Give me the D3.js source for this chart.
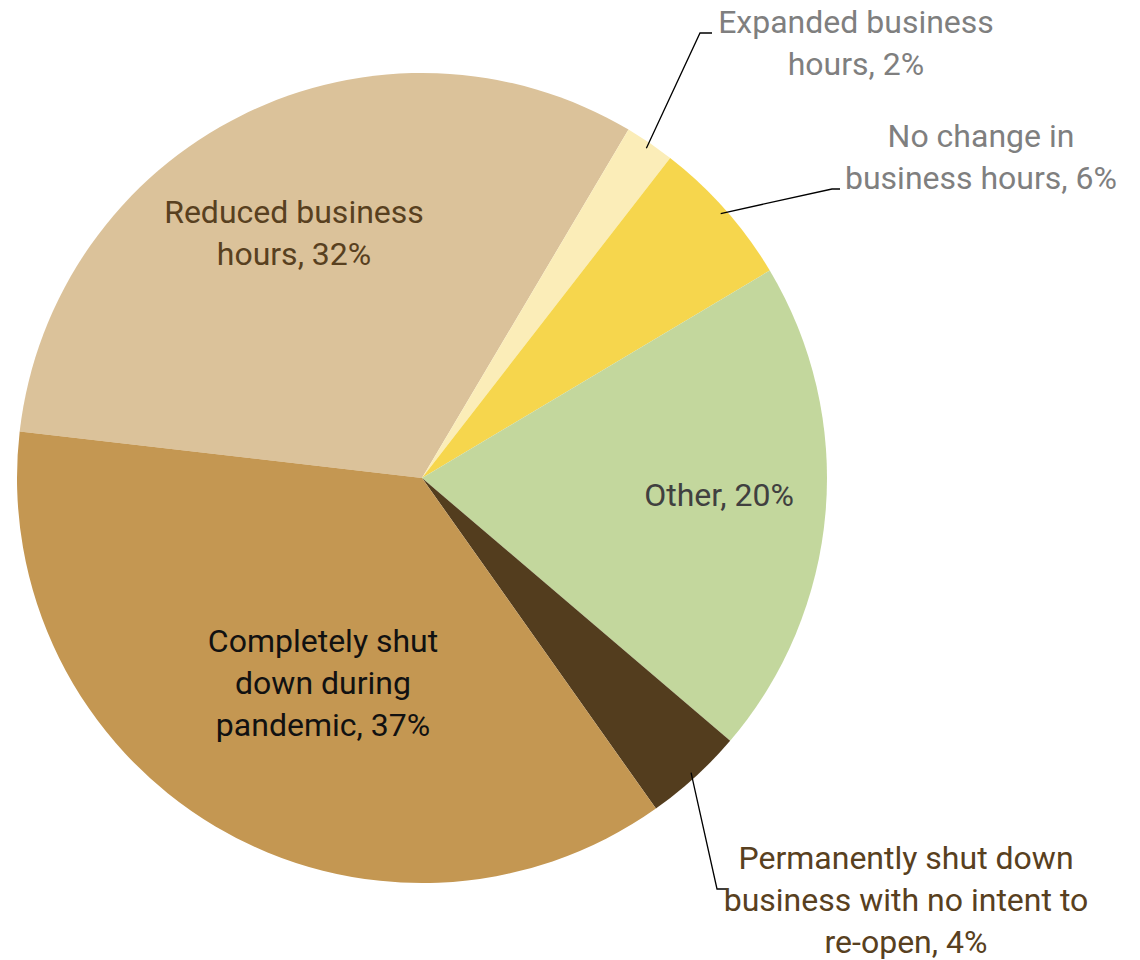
<!DOCTYPE html>
<html>
<head>
<meta charset="utf-8">
<script src="https://cdn.jsdelivr.net/npm/d3@7"></script>
<style>
  html, body { margin: 0; padding: 0; background: #fff; }
  svg text { font-family: Roboto, "Noto Sans", sans-serif; }
</style>
</head>
<body>
<svg id="chart" width="1140" height="960"></svg>
<script>
// Share of businesses by change in operations during the pandemic (%)
const categories = [
  "Reduced business hours",
  "Expanded business hours",
  "No change in business hours",
  "Other",
  "Permanently shut down business with no intent to re-open",
  "Completely shut down during pandemic"
];
const values = [32, 2, 6, 20, 4, 37];
const labelLines = [
  ["Reduced business", "hours, 32%"],
  ["Expanded business", "hours, 2%"],
  ["No change in", "business hours, 6%"],
  ["Other, 20%"],
  ["Permanently shut down", "business with no intent to", "re-open, 4%"],
  ["Completely shut", "down during", "pandemic, 37%"]
];
const colors = ["#dbc29a", "#fbedb8", "#f6d64d", "#c3d79d", "#533d1e", "#c49752"];
const textColors = ["#584020", "#7f7f7f", "#7f7f7f", "#404040", "#584020", "#111111"];

const svg = d3.select("#chart");
const cx = 422, cy = 478, radius = 405;
const g = svg.append("g").attr("transform", `translate(${cx},${cy})`);

const startDeg = 276.6;
const pie = d3.pie().sort(null).value(d => d.value)
  .startAngle(startDeg * Math.PI / 180)
  .endAngle((startDeg + 360) * Math.PI / 180);
const arc = d3.arc().innerRadius(0).outerRadius(radius);

const data = categories.map((c, i) => ({ name: c, value: values[i], i }));
const arcs = pie(data);

g.selectAll("path.slice").data(arcs).join("path")
  .attr("class", "slice")
  .attr("d", arc)
  .attr("fill", d => colors[d.data.i]);

// label anchor positions (centre of the text block, relative to pie centre)
const labelPos = [
  { x: -128, y: -245 },
  { x: 434, y: -435 },
  { x: 559, y: -321 },
  { x: 297, y: 17 },
  { x: 484, y: 422 },
  { x: -99, y: 205 }
];
const lineH = 42;

// leader lines for labels placed outside the pie
const leaders = {
  1: { elbowX: 278, labelY: -445, endX: 290 },
  2: { elbowX: 410, labelY: -289, endX: 418 },
  4: { elbowX: 295, labelY: 411, endX: 306 }
};
Object.entries(leaders).forEach(([k, L]) => {
  const a = arcs[+k];
  const mid = (a.startAngle + a.endAngle) / 2;
  const sx = radius * Math.sin(mid) * 0.985, sy = -radius * Math.cos(mid) * 0.985;
  g.append("path")
    .attr("d", d3.line()([[sx, sy], [L.elbowX, L.labelY], [L.endX, L.labelY]]))
    .attr("fill", "none")
    .attr("stroke", "#000")
    .attr("stroke-width", 1.3);
});

arcs.forEach((a, i) => {
  const lines = labelLines[i];
  const p = labelPos[i];
  const t = g.append("text")
    .attr("text-anchor", "middle")
    .attr("fill", textColors[i])
    .attr("font-size", 32);
  lines.forEach((ln, j) => {
    t.append("tspan")
      .attr("x", p.x)
      .attr("y", p.y + (j - (lines.length - 1) / 2) * lineH)
      .attr("dy", "0.35em")
      .text(ln);
  });
});
</script>
</body>
</html>
